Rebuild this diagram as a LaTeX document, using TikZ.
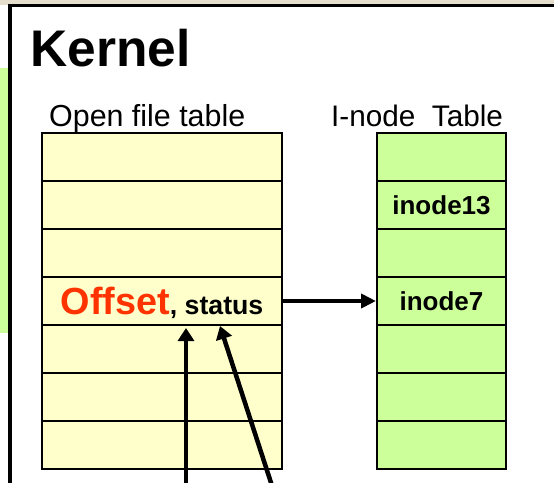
\documentclass[tikz,border=0pt]{standalone}
\usepackage{fontspec}
\setmainfont{Liberation Sans}
\definecolor{tablebeige}{HTML}{FFFFCC}
\definecolor{inodegreen}{HTML}{CCFF99}
\definecolor{offsetred}{HTML}{FF3300}
\definecolor{slidebeige}{HTML}{E6DECD}
\usepackage{tikz}
\usetikzlibrary{arrows,arrows.meta,positioning,calc}

\begin{document}
\begin{tikzpicture}[x=1pt,y=-1pt]
    \clip (0,0) rectangle (554,482);
    % Slide background
    \fill[slidebeige] (0,0) rectangle (554,5);
    \fill[inodegreen] (0,68) rectangle (9,333);
    \draw[line width=3.5pt] (10,5.5) rectangle (620,620);

    % Titles
    \node[anchor=base west,inner sep=0] (kernel) at (30,66)
        {\fontsize{51.5}{51.5}\selectfont\bfseries Kernel};
    \node[anchor=base west,inner sep=0] (oft) at (49,126)
        {\fontsize{30.4}{30.4}\selectfont Open file table};
    \node[anchor=base west,inner sep=0] (int) at (331,126)
        {\fontsize{29.7}{29.7}\selectfont I-node~~Table};

    % Open file table
    \foreach \i/\label in {1/{},2/{},3/{},4/{\textcolor{offsetred}{\fontsize{37.8}{37.8}\selectfont Offset}, status},5/{},6/{},7/{}} {
        \node[rectangle,draw,line width=2pt,fill=tablebeige,minimum width=240pt,minimum height=48pt,inner sep=0,
              text depth=0pt,font=\fontsize{26.7}{26.7}\selectfont\bfseries] (f\i) at (162,157+48*\i-48) {\label};
    }

    % I-node table
    \foreach \i/\label in {1/{},2/inode13,3/{},4/inode7,5/{},6/{},7/{}} {
        \node[rectangle,draw,line width=2pt,fill=inodegreen,minimum width=129pt,minimum height=48pt,inner sep=0,
              font=\fontsize{26}{26}\selectfont\bfseries] (n\i) at (441.5,157+48*\i-48) {\label};
    }

    % Pointers
    \coordinate (offptr) at (186,328);
    \coordinate (stptr) at (220,326);
    \coordinate (offsrc) at (186,495);
    \coordinate (stsrc) at (275,495);
    \draw[-{Triangle[length=15pt,width=14pt]},line width=4.5pt] (f4) -- (n4);
    \draw[-{Triangle[length=13pt,width=16pt]},line width=4.5pt] (offsrc) -- (offptr);
    \draw[-{Triangle[length=13pt,width=16pt]},line width=4.5pt] (stsrc) -- (stptr);
\end{tikzpicture}
\end{document}
